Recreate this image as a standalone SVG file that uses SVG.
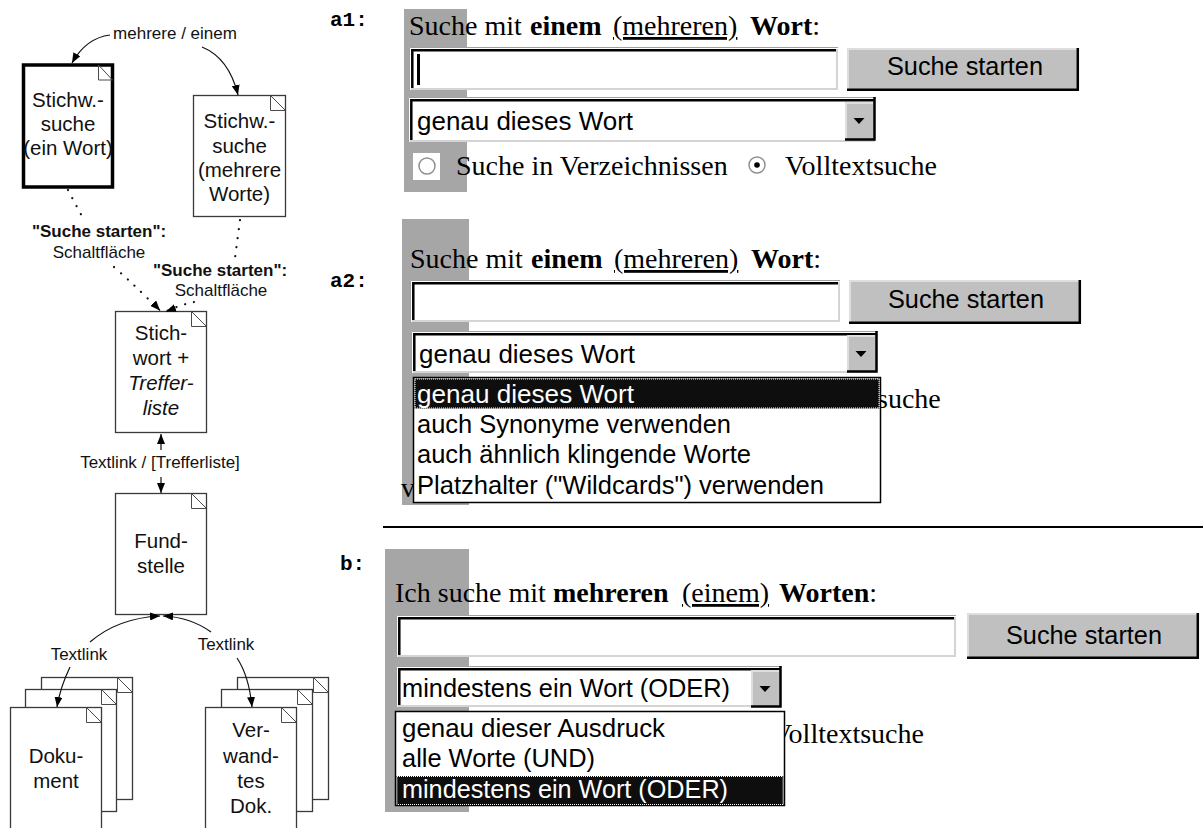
<svg xmlns="http://www.w3.org/2000/svg" width="1203" height="828" viewBox="0 0 1203 828">
<defs>
<style>
.page{fill:#fff;stroke:#3a3a3a;stroke-width:1.3}
.thick{fill:#fff;stroke:#000;stroke-width:3.5}
.fold{fill:none;stroke:#4a4a4a;stroke-width:1}
.nt{font-family:"Liberation Sans",Arial,sans-serif;font-size:20.5px;text-anchor:middle;fill:#111}
.it{font-style:italic}
.lb{font-family:"Liberation Sans",Arial,sans-serif;font-size:17px;text-anchor:middle;fill:#111}
.b{font-weight:bold}
.ln{fill:none;stroke:#111;stroke-width:1.2}
.dt{fill:none;stroke:#111;stroke-width:2.2;stroke-dasharray:0.1 9;stroke-linecap:round}
.tag{font-family:"Liberation Mono","Courier New",monospace;font-size:21px;font-weight:bold;fill:#000}
.gbar{fill:#a6a6a6}
.ser{font-family:"Liberation Serif","Times New Roman",serif;font-size:28px;fill:#000}
.san{font-family:"Liberation Sans",Arial,sans-serif;font-size:25px;fill:#000}
.wht{fill:#fff}
.e1{fill:none;stroke:#a0a0a0;stroke-width:1}
.e2{fill:none;stroke:#000;stroke-width:2.5}
.e3{fill:none;stroke:#d4d4d4;stroke-width:2}
.btn{fill:#c0c0c0}
.bsh{fill:none;stroke:#000;stroke-width:2.5}
.bhl{fill:none;stroke:#e8e8e8;stroke-width:1.5}
.lst{fill:#fff;stroke:#000;stroke-width:1.5}
.sel{fill:#0e0e0e}
.foc{fill:none;stroke:#fff;stroke-width:1;stroke-dasharray:1 1}
.ht{fill:#fff}
.sep{stroke:#000;stroke-width:2}
</style>
<marker id="ah" viewBox="0 0 10 8" refX="10" refY="4" markerWidth="10" markerHeight="8" markerUnits="userSpaceOnUse" orient="auto"><path d="M0,0 L10,4 L0,8 z" fill="#000"/></marker>
</defs>

<!-- Left diagram nodes -->
<g id="n-stichw-ein">
<rect class="thick" x="23.5" y="65" width="89" height="122"/>
<path class="fold" d="M98.5,65 V80 H112.5 M98.5,65 L112.5,80"/>
<text class="nt" x="68" y="107">Stichw.-</text>
<text class="nt" x="68" y="131">suche</text>
<text class="nt" x="68" y="155">(ein Wort)</text>
</g>
<g id="n-stichw-mehrere">
<rect class="page" x="193.5" y="95.5" width="92" height="121"/>
<path class="fold" d="M270.5,95.5 V110.5 H285.5 M270.5,95.5 L285.5,110.5"/>
<text class="nt" x="239.5" y="128">Stichw.-</text>
<text class="nt" x="239.5" y="153">suche</text>
<text class="nt" x="239.5" y="177">(mehrere</text>
<text class="nt" x="239.5" y="201">Worte)</text>
</g>
<g id="n-trefferliste">
<rect class="page" x="115.5" y="311.5" width="91" height="121"/>
<path class="fold" d="M191.5,311.5 V326.5 H206.5 M191.5,311.5 L206.5,326.5"/>
<text class="nt" x="161" y="340">Stich-</text>
<text class="nt" x="161" y="365">wort +</text>
<text class="nt it" x="161" y="390">Treffer-</text>
<text class="nt it" x="161" y="415">liste</text>
</g>
<g id="n-fundstelle">
<rect class="page" x="115.5" y="493.5" width="91" height="121"/>
<path class="fold" d="M191.5,493.5 V508.5 H206.5 M191.5,493.5 L206.5,508.5"/>
<text class="nt" x="161" y="548">Fund-</text>
<text class="nt" x="161" y="573">stelle</text>
</g>
<g id="n-dokument">
<rect class="page" x="41.5" y="677.5" width="91" height="122"/>
<path class="fold" d="M117.5,677.5 V692.5 H132.5 M117.5,677.5 L132.5,692.5"/>
<rect class="page" x="25.5" y="689.5" width="91" height="122"/>
<path class="fold" d="M101.5,689.5 V704.5 H116.5 M101.5,689.5 L116.5,704.5"/>
<rect class="page" x="10.5" y="707.5" width="91" height="125"/>
<path class="fold" d="M86.5,707.5 V722.5 H101.5 M86.5,707.5 L101.5,722.5"/>
<text class="nt" x="56" y="763">Doku-</text>
<text class="nt" x="56" y="788">ment</text>
</g>
<g id="n-verwandtes">
<rect class="page" x="237.5" y="677.5" width="91" height="122"/>
<path class="fold" d="M313.5,677.5 V692.5 H328.5 M313.5,677.5 L328.5,692.5"/>
<rect class="page" x="221.5" y="689.5" width="91" height="122"/>
<path class="fold" d="M297.5,689.5 V704.5 H312.5 M297.5,689.5 L312.5,704.5"/>
<rect class="page" x="205.5" y="707.5" width="91" height="125"/>
<path class="fold" d="M281.5,707.5 V722.5 H296.5 M281.5,707.5 L296.5,722.5"/>
<text class="nt" x="251" y="737">Ver-</text>
<text class="nt" x="251" y="763">wand-</text>
<text class="nt" x="251" y="788">tes</text>
<text class="nt" x="251" y="813">Dok.</text>
</g>

<!-- Connectors -->
<g id="connectors">
<path class="ln" d="M110,35 Q86,38 72,63" marker-end="url(#ah)"/>
<path class="ln" d="M202,47 Q229,58 238,95" marker-end="url(#ah)"/>
<path class="dt" d="M68,190 L84,220"/>
<path class="dt" d="M114,267 Q140,290 159,310"/>
<path class="ln" d="M154,304 L160,310.5" marker-end="url(#ah)" stroke-width="0.5"/>
<path class="dt" d="M240,220 L235,258"/>
<path class="dt" d="M194,302 Q180,305 167,311"/>
<path class="ln" d="M174,308.5 L166,311.5" marker-end="url(#ah)" stroke-width="0.5"/>
<path class="ln" d="M161,450 V434" marker-end="url(#ah)"/>
<path class="ln" d="M161,477 V493" marker-end="url(#ah)"/>
<path class="ln" d="M90,642 Q118,618 160,616" marker-end="url(#ah)"/>
<path class="ln" d="M70,667 Q60,688 57,707" marker-end="url(#ah)"/>
<path class="ln" d="M211,632 Q190,617 163,616" marker-end="url(#ah)"/>
<path class="ln" d="M237,658 Q249,676 252,707" marker-end="url(#ah)"/>
<text class="lb" x="175" y="39">mehrere / einem</text>
<text class="lb b" x="99" y="237">"Suche starten":</text>
<text class="lb" x="99" y="258">Schaltfläche</text>
<text class="lb b" x="220" y="276">"Suche starten":</text>
<text class="lb" x="221" y="296">Schaltfläche</text>
<text class="lb" x="160" y="468">Textlink / [Trefferliste]</text>
<text class="lb" x="79" y="660">Textlink</text>
<text class="lb" x="226" y="650">Textlink</text>
</g>

<!-- Screenshot a1 -->
<g id="shot-a1">
<text class="tag" x="330" y="26">a1:</text>
<rect class="gbar" x="404" y="9" width="63" height="183"/>
<text class="ser" x="409" y="35">Suche mit <tspan class="b" x="530">einem</tspan> <tspan x="613" text-decoration="underline">(mehreren)</tspan> <tspan class="b" x="750">Wort</tspan>:</text>
<rect class="wht" x="409" y="47" width="429" height="43"/>
<path class="e3" d="M411,89 H837 V49"/>
<path class="e1" d="M409.5,90 V47.5 H838"/>
<path class="e2" d="M412.3,88 V50.3 H836"/>
<rect x="417" y="54" width="3" height="31" fill="#000"/>
<rect class="btn" x="847" y="48" width="232" height="43"/>
<path class="bhl" d="M848,90 V49 H1078"/>
<path class="bsh" d="M847,89.8 H1077.8 V48"/>
<text class="san" x="887" y="75" textLength="156" lengthAdjust="spacingAndGlyphs">Suche starten</text>
<rect class="wht" x="408" y="97" width="468" height="45"/>
<path class="e3" d="M410,141 H875"/>
<path class="e1" d="M408.5,142 V97.5 H876"/>
<path class="e2" d="M411.3,140 V100.3 H874"/>
<rect class="btn" x="845" y="102" width="29" height="38"/>
<path class="bhl" d="M846,139 V103 H873"/>
<path class="bsh" d="M845,139.5 H874.5 V97"/>
<path d="M853.5,118 h11 l-5.5,6 z" fill="#000"/>
<text class="san" x="417" y="130" textLength="216" lengthAdjust="spacingAndGlyphs">genau dieses Wort</text>
<rect class="wht" x="413" y="153" width="27" height="27"/>
<circle cx="427" cy="166" r="8" fill="#fff" stroke="#909090" stroke-width="1.5"/>
<text class="ser" x="456" y="175">Suche in Verzeichnissen</text>
<circle cx="757" cy="165" r="8" fill="#fff" stroke="#909090" stroke-width="1.5"/>
<circle cx="757" cy="165" r="2.8" fill="#000"/>
<text class="ser" x="785" y="175">Volltextsuche</text>
</g>

<!-- Screenshot a2 -->
<g id="shot-a2">
<text class="tag" x="330" y="287">a2:</text>
<rect class="gbar" x="402" y="219" width="67" height="286"/>
<text class="ser" x="410" y="268">Suche mit <tspan class="b" x="531">einem</tspan> <tspan x="614" text-decoration="underline">(mehreren)</tspan> <tspan class="b" x="751">Wort</tspan>:</text>
<rect class="wht" x="410" y="280" width="430" height="42"/>
<path class="e3" d="M412,321 H839 V282"/>
<path class="e1" d="M410.5,322 V280.5 H840"/>
<path class="e2" d="M413.3,320 V283.3 H838"/>
<rect class="btn" x="849" y="280" width="232" height="44"/>
<path class="bhl" d="M850,323 V281 H1080"/>
<path class="bsh" d="M849,322.8 H1079.8 V280"/>
<text class="san" x="888" y="308" textLength="156" lengthAdjust="spacingAndGlyphs">Suche starten</text>
<rect class="wht" x="411" y="331" width="467" height="42"/>
<path class="e3" d="M413,372 H877"/>
<path class="e1" d="M411.5,373 V331.5 H878"/>
<path class="e2" d="M414.3,371 V334.3 H876"/>
<rect class="btn" x="847" y="335" width="29" height="37"/>
<path class="bhl" d="M848,371 V336 H875"/>
<path class="bsh" d="M847,371.5 H876.5 V331"/>
<path d="M855.5,351 h11 l-5.5,6 z" fill="#000"/>
<text class="san" x="419" y="363" textLength="216" lengthAdjust="spacingAndGlyphs">genau dieses Wort</text>
<text class="ser" x="877" y="408">suche</text>
<text class="ser" x="401" y="497">v</text>
<rect class="lst" x="413.5" y="377.5" width="467" height="125"/>
<rect class="sel" x="414.5" y="378.5" width="465" height="30"/>
<rect class="foc" x="415" y="379" width="464" height="29"/>
<text class="san ht" x="417" y="403" textLength="217" lengthAdjust="spacingAndGlyphs">genau dieses Wort</text>
<text class="san" x="417" y="433" textLength="314" lengthAdjust="spacingAndGlyphs">auch Synonyme verwenden</text>
<text class="san" x="417" y="463" textLength="334" lengthAdjust="spacingAndGlyphs">auch ähnlich klingende Worte</text>
<text class="san" x="417" y="494" textLength="407" lengthAdjust="spacingAndGlyphs">Platzhalter ("Wildcards") verwenden</text>
</g>

<line class="sep" x1="383" y1="527" x2="1203" y2="527"/>

<!-- Screenshot b -->
<g id="shot-b">
<text class="tag" x="340" y="570">b:</text>
<rect class="gbar" x="385" y="549" width="84" height="263"/>
<text class="ser" x="395" y="602">Ich suche mit <tspan class="b" x="553">mehreren</tspan> <tspan x="682" text-decoration="underline">(einem)</tspan> <tspan class="b" x="779">Worten</tspan>:</text>
<rect class="wht" x="396" y="615" width="560" height="42"/>
<path class="e3" d="M398,656 H955 V617"/>
<path class="e1" d="M396.5,657 V615.5 H956"/>
<path class="e2" d="M399.3,655 V618.3 H954"/>
<rect class="btn" x="967" y="613" width="232" height="46"/>
<path class="bhl" d="M968,658 V614 H1198"/>
<path class="bsh" d="M967,657.8 H1197.8 V613"/>
<text class="san" x="1006" y="644" textLength="156" lengthAdjust="spacingAndGlyphs">Suche starten</text>
<rect class="wht" x="396" y="666" width="386" height="41"/>
<path class="e3" d="M398,706 H781"/>
<path class="e1" d="M396.5,707 V666.5 H782"/>
<path class="e2" d="M399.3,705 V669.3 H780"/>
<rect class="btn" x="751" y="670" width="29" height="37"/>
<path class="bhl" d="M752,706 V671 H779"/>
<path class="bsh" d="M751,706.5 H780.5 V666"/>
<path d="M759.5,686 h11 l-5.5,6 z" fill="#000"/>
<text class="san" x="402" y="697" textLength="328" lengthAdjust="spacingAndGlyphs">mindestens ein Wort (ODER)</text>
<text class="ser" x="772" y="743">Volltextsuche</text>
<rect class="lst" x="395.5" y="711.5" width="389" height="94"/>
<rect class="sel" x="396.5" y="776" width="387" height="29"/>
<rect class="foc" x="397" y="776.5" width="386" height="28"/>
<text class="san" x="402" y="737" textLength="263" lengthAdjust="spacingAndGlyphs">genau dieser Ausdruck</text>
<text class="san" x="402" y="767" textLength="193" lengthAdjust="spacingAndGlyphs">alle Worte (UND)</text>
<text class="san ht" x="402" y="798" textLength="326" lengthAdjust="spacingAndGlyphs">mindestens ein Wort (ODER)</text>
</g>
</svg>
